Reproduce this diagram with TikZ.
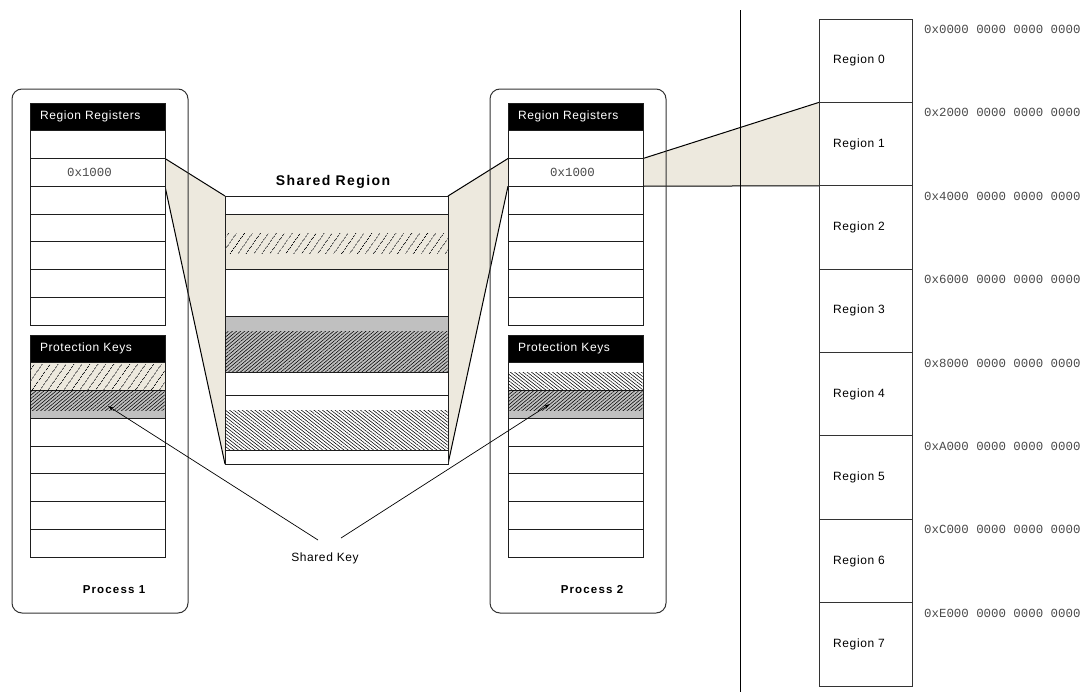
\documentclass[tikz,border=0pt]{standalone}
\usepackage{fontspec}
\setmainfont{Liberation Sans}
\newfontfamily\lsf[LetterSpace=5]{Liberation Sans}
\newfontfamily\lsfb[LetterSpace=10]{Liberation Sans}
\newfontfamily\addrfont{Liberation Mono}
\usetikzlibrary{patterns.meta,arrows.meta}
\definecolor{beige}{HTML}{EDE9DE}
\definecolor{keygray}{HTML}{C0C0C0}
\definecolor{addrgray}{HTML}{4A4A4A}
\definecolor{linegray}{HTML}{1E1E1E}
\begin{document}
\begin{tikzpicture}[x=1pt,y=-1pt,
  cell/.style={draw=linegray,line width=0.8pt,fill=white,minimum width=135pt,minimum height=27.75pt,inner sep=0pt,outer sep=0pt,anchor=north west},
  hdr/.style={cell,fill=black,text=white,font=\lsf\fontsize{12}{14}\selectfont,text width=115pt,align=left},
  addr/.style={font=\addrfont\fontsize{12.4}{14}\selectfont,text=addrgray,inner sep=0pt},
  procbox/.style={draw=black!80,line width=1pt,rounded corners=10pt,minimum width=176pt,minimum height=524pt,inner sep=0pt,outer sep=0pt,anchor=north west},
  proclabel/.style={font=\lsfb\bfseries\fontsize{11.5}{13}\selectfont,inner sep=0pt},
  srow/.style={draw=linegray,line width=0.8pt,fill=white,minimum width=223pt,inner sep=0pt,outer sep=0pt,anchor=north west},
  regbox/.style={draw=black!80,line width=0.8pt,fill=white,minimum width=93pt,minimum height=83.375pt,inner sep=0pt,outer sep=0pt,anchor=north west},
  reglabel/.style={font=\lsf\fontsize{12}{14}\selectfont,inner sep=0pt,anchor=west},
  sparse/.style={pattern={Lines[angle=55,distance=6.5pt,line width=0.75pt]},pattern color=black},
  densene/.style={pattern={Lines[angle=40,distance=2.6pt,line width=0.55pt]},pattern color=black},
  densenw/.style={pattern={Lines[angle=-38,distance=2.6pt,line width=0.55pt]},pattern color=black},
  wedge/.style={draw=black,line width=1pt},
  keyarrow/.style={draw=black,line width=0.7pt,-{Stealth[length=6pt,width=3.5pt]}}
]
\useasboundingbox (0,0) rectangle (1086,696);

% ---------- Shared region geometry (nodes) ----------
\node[srow,minimum height=18pt]  (sA) at (225,196) {};
\node[srow,minimum height=14pt]  (sG) at (225,450) {};

% ---------- address cells (needed for wedges) ----------
\node[cell] (p1addr) at (30,158.5) {};
\node[cell] (p2addr) at (508,158.5) {};
\node[regbox] (reg1) at (819,102.375) {};

% ---------- beige wedges ----------
\fill[beige] (p1addr.north east) -- (sA.north west) -- (sG.south west) -- (p1addr.south east) -- cycle;
\fill[beige] (sA.north east) -- (p2addr.north west) -- (p2addr.south west) -- (sG.south east) -- cycle;
\fill[beige] (p2addr.north east) -- (reg1.north west) -- (reg1.south west) -- (p2addr.south east) -- cycle;
\draw[wedge] (p1addr.north east) -- (sA.north west);
\draw[wedge] (p1addr.south east) -- (sG.south west);
\draw[wedge] (sA.north east) -- (p2addr.north west);
\draw[wedge] (sG.south east) -- (p2addr.south west);
\draw[wedge] (p2addr.north east) -- (reg1.north west);
\draw[wedge] (p2addr.south east) -- (reg1.south west);

% ---------- separator line ----------
\coordinate (sepTop) at (740,10);
\coordinate (sepBot) at (740,692);
\draw[black,line width=1pt] (sepTop) -- (sepBot);

% ---------- process boxes ----------
\node[procbox] (proc1) at (12,89) {};
\node[procbox] (proc2) at (490,89) {};
\node[proclabel] (proc1lbl) at (114,590) {Process 1};
\node[proclabel] (proc2lbl) at (592,590) {Process 2};

% ---------- Shared region with hatches ----------
\node[srow,minimum height=18pt]  (sA) at (225,196) {};
\node[srow,minimum height=55pt,fill=beige] (sB) at (225,214) {};
\node[srow,minimum height=47pt]  (sC) at (225,269) {};
\node[srow,minimum height=56pt,fill=keygray] (sD) at (225,316) {};
\node[srow,minimum height=23pt]  (sE) at (225,372) {};
\node[srow,minimum height=55pt]  (sF) at (225,395) {};
\node[srow,minimum height=14pt]  (sG) at (225,450) {};
\path[sparse] (225.4,233) rectangle (447.6,253);
\path[densene] (225.4,331) rectangle (447.6,371.6);
\path[densenw] (225.4,410) rectangle (447.6,449.6);
\node[font=\lsfb\bfseries\fontsize{14}{16}\selectfont,inner sep=0pt] (sharedtitle) at (333,182) {Shared Region};

% ---------- Process 1 cells ----------
\node[hdr] (p1rh) at (30,103) {Region Registers};
\node[cell] (p1r1) at (30,130.75) {};
\node[cell] (p1addr) at (30,158.5) {};
\node[addr] (p1addrtxt) at (89.5,172.4) {0x1000};
\node[cell] (p1r3) at (30,186.25) {};
\node[cell] (p1r4) at (30,214) {};
\node[cell] (p1r5) at (30,241.75) {};
\node[cell] (p1r6) at (30,269.5) {};
\node[cell] (p1r7) at (30,297.25) {};

\node[hdr] (p1kh) at (30,335) {Protection Keys};
\node[cell,fill=beige] (p1k1) at (30,362.75) {};
\path[sparse] (30.4,364) rectangle (164.6,390.1);
\node[cell,fill=keygray] (p1k2) at (30,390.5) {};
\path[densene] (30.4,390.9) rectangle (164.6,410);
\node[cell] (p1k3) at (30,418.25) {};
\node[cell] (p1k4) at (30,446) {};
\node[cell] (p1k5) at (30,473.75) {};
\node[cell] (p1k6) at (30,501.5) {};
\node[cell] (p1k7) at (30,529.25) {};

% ---------- Process 2 cells ----------
\node[hdr] (p2rh) at (508,103) {Region Registers};
\node[cell] (p2r1) at (508,130.75) {};
\node[cell] (p2addr) at (508,158.5) {};
\node[addr] (p2addrtxt) at (572.5,172.4) {0x1000};
\node[cell] (p2r3) at (508,186.25) {};
\node[cell] (p2r4) at (508,214) {};
\node[cell] (p2r5) at (508,241.75) {};
\node[cell] (p2r6) at (508,269.5) {};
\node[cell] (p2r7) at (508,297.25) {};

\node[hdr] (p2kh) at (508,335) {Protection Keys};
\node[cell] (p2k1) at (508,362.75) {};
\path[densenw] (508.4,372.5) rectangle (642.6,390.1);
\node[cell,fill=keygray] (p2k2) at (508,390.5) {};
\path[densene] (508.4,390.9) rectangle (642.6,410);
\node[cell] (p2k3) at (508,418.25) {};
\node[cell] (p2k4) at (508,446) {};
\node[cell] (p2k5) at (508,473.75) {};
\node[cell] (p2k6) at (508,501.5) {};
\node[cell] (p2k7) at (508,529.25) {};

% ---------- Shared key ----------
\node[font=\lsf\fontsize{12}{14}\selectfont,inner sep=0pt] (sharedkey) at (325,558) {Shared Key};
\coordinate (skL) at (318,540);
\coordinate (skR) at (341,538);
\coordinate (k1tgt) at (108,406);
\coordinate (k2tgt) at (550,404);
\draw[keyarrow] (skL) -- (k1tgt);
\draw[keyarrow] (skR) -- (k2tgt);

% ---------- Regions ----------
\foreach \i in {0,...,7}{
  \node[regbox] (reg\i) at (819,{19+83.375*\i}) {};
  \node[reglabel] (reg\i lbl) at (833,{19+83.375*\i+41.7}) {Region \i};
}
\node[addr,anchor=west] (a0) at (924,29.5) {0x0000 0000 0000 0000};
\node[addr,anchor=west] (a1) at (924,112.9) {0x2000 0000 0000 0000};
\node[addr,anchor=west] (a2) at (924,196.3) {0x4000 0000 0000 0000};
\node[addr,anchor=west] (a3) at (924,279.6) {0x6000 0000 0000 0000};
\node[addr,anchor=west] (a4) at (924,363.0) {0x8000 0000 0000 0000};
\node[addr,anchor=west] (a5) at (924,446.4) {0xA000 0000 0000 0000};
\node[addr,anchor=west] (a6) at (924,529.8) {0xC000 0000 0000 0000};
\node[addr,anchor=west] (a7) at (924,613.1) {0xE000 0000 0000 0000};
\end{tikzpicture}
\end{document}
